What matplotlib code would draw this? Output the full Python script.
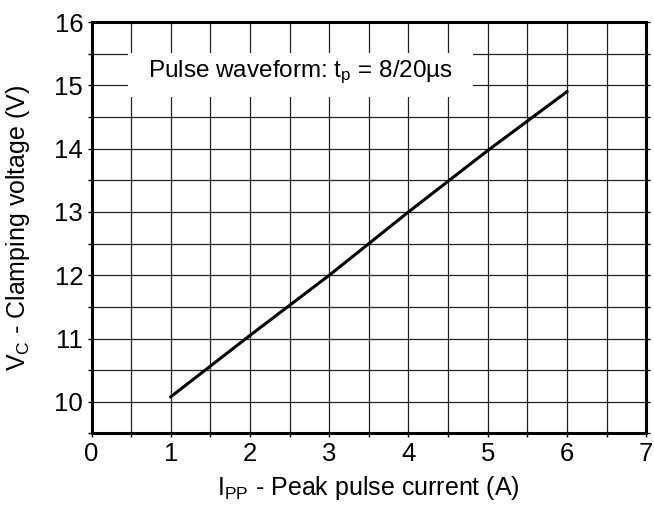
import numpy as np
import matplotlib.pyplot as plt
from matplotlib.ticker import MultipleLocator
from matplotlib.patches import Rectangle

plt.rcParams['font.family'] = ['Liberation Sans', 'DejaVu Sans']
plt.rcParams['mathtext.fontset'] = 'custom'
plt.rcParams['mathtext.rm'] = 'Liberation Sans'
plt.rcParams['mathtext.it'] = 'Liberation Sans'

# peak pulse current (A) vs clamping voltage (V)
ipp = [1, 2, 3, 4, 5, 6]
vc = [10.08, 11.05, 12.0, 13.0, 13.97, 14.9]

fig = plt.figure(figsize=(6.54, 5.13), dpi=100)
ax = fig.add_axes([0.140, 0.155, 0.848, 0.802])

ax.plot(ipp, vc, color='black', lw=2.2, zorder=4)

ax.set_xlim(0, 7)
ax.set_ylim(9.5, 16)
ax.xaxis.set_major_locator(MultipleLocator(1))
ax.xaxis.set_minor_locator(MultipleLocator(0.5))
ax.yaxis.set_major_locator(MultipleLocator(1))
ax.yaxis.set_minor_locator(MultipleLocator(0.5))
ax.grid(which='both', color='#222222', lw=0.9, zorder=1)
ax.set_axisbelow(True)

for s in ax.spines.values():
    s.set_linewidth(2.2)

ax.tick_params(which='both', direction='out', length=3, width=1,
               right=True, labelsize=18.5)
ax.tick_params(axis='x', pad=3)
ax.tick_params(axis='y', pad=3)

# white label box over the grid
ax.add_patch(Rectangle((0.46, 14.82), 4.36, 0.69, fc='white', ec='none', zorder=3))
ax.text(2.64, 15.2, r'Pulse waveform: t$_\mathregular{p}$ = 8/20µs',
        fontsize=17.5, ha='center', va='center', zorder=5)

ax.set_xlabel(r'I$_\mathregular{PP}$ - Peak pulse current (A)', fontsize=18)
ax.set_ylabel(r'V$_\mathregular{C}$ - Clamping voltage (V)', fontsize=18)
ax.xaxis.set_label_coords(0.5, -0.098)
ax.yaxis.set_label_coords(-0.108, 0.5)

fig.savefig('out.png', dpi=100)
